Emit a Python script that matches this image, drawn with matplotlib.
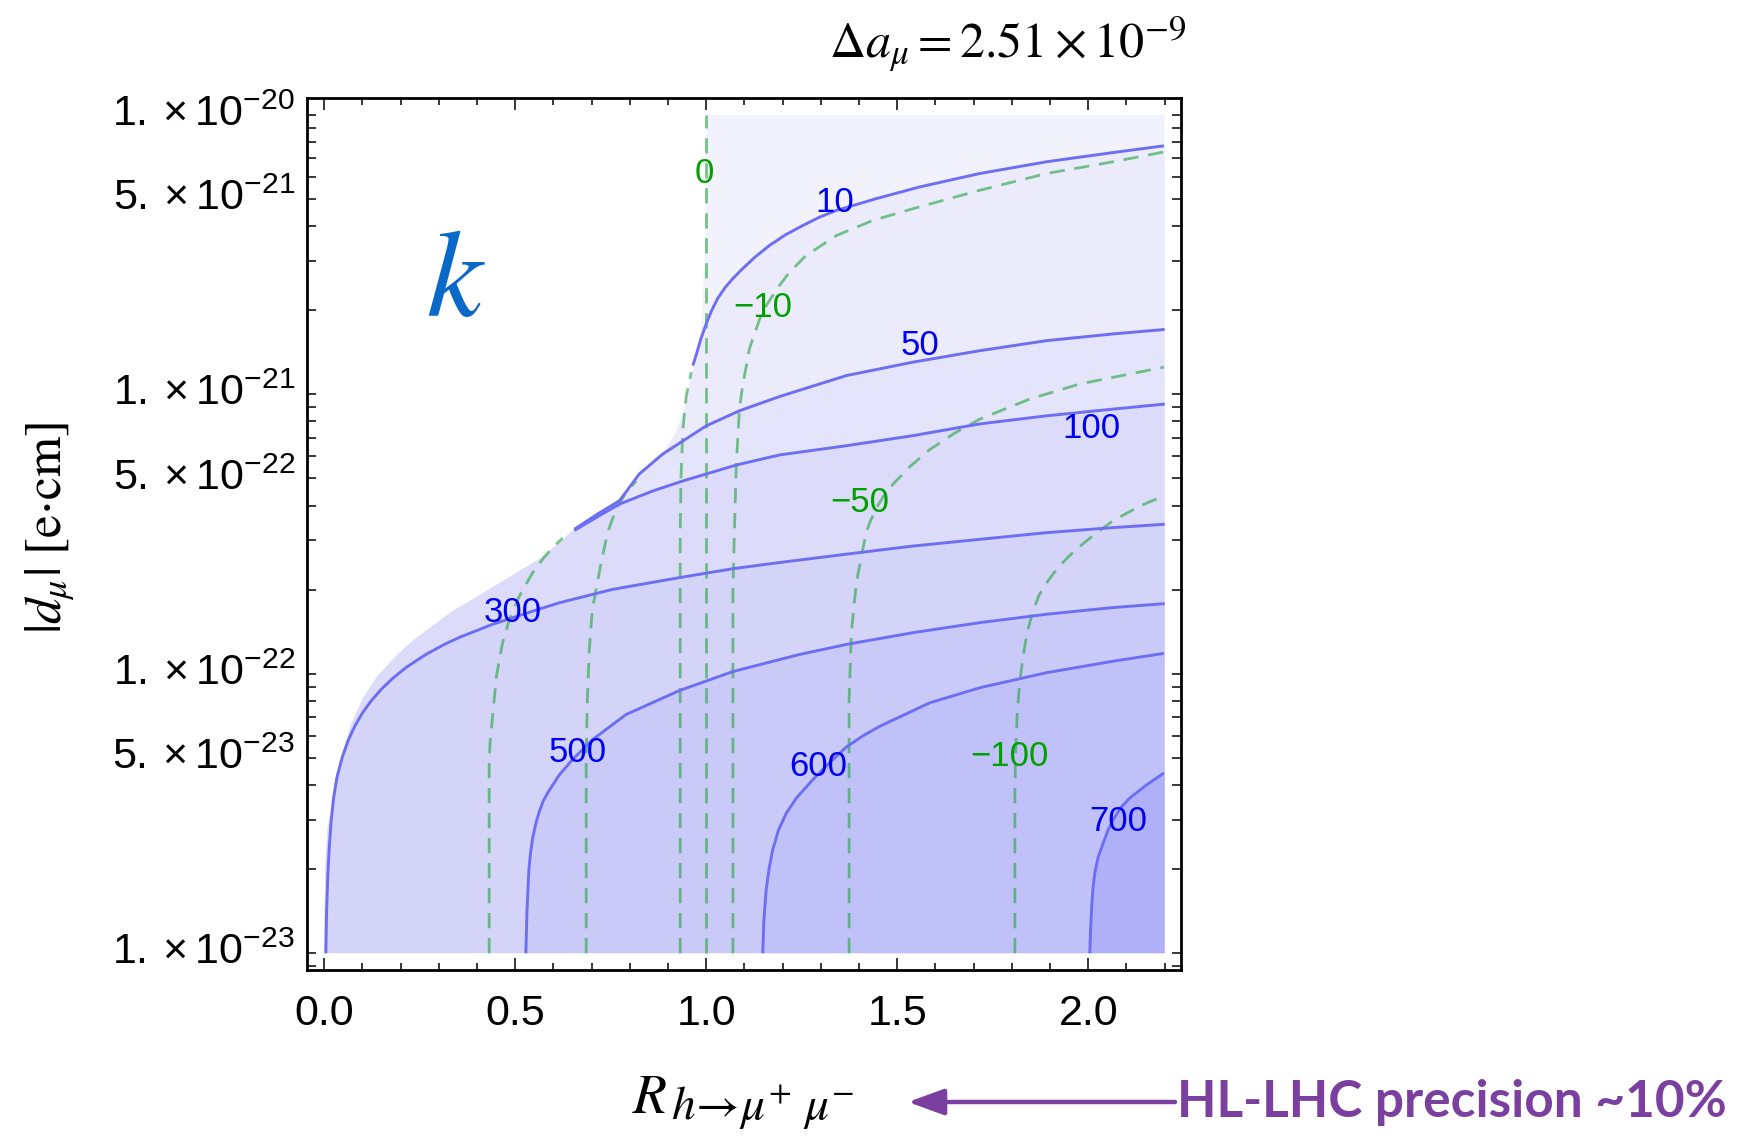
import numpy as np
import matplotlib.pyplot as plt
from matplotlib.patches import Polygon, FancyArrowPatch
from matplotlib.ticker import FixedLocator

plt.rcParams['font.family'] = 'Liberation Sans'
plt.rcParams['mathtext.fontset'] = 'custom'
plt.rcParams['mathtext.rm'] = 'Liberation Sans'
plt.rcParams['mathtext.it'] = 'Liberation Sans:italic'
plt.rcParams['mathtext.bf'] = 'Liberation Sans:bold'

# --- curves: x = R_h->mumu, y = log10|d_mu| ---
# edge of the shaded (allowed) region, bottom-left up to the top
edge_R = [0.0, 0.002, 0.004, 0.009, 0.018, 0.029, 0.048, 0.071, 0.100, 0.139, 0.188, 0.233,
          0.284, 0.335, 0.389, 0.432, 0.476, 0.519, 0.563, 0.608, 0.655, 0.715, 0.773, 0.804,
          0.830, 0.857, 0.886, 0.921, 0.943, 0.956, 0.969, 0.987, 0.996, 1.0, 1.0]
edge_L = [-23.0, -22.809, -22.666, -22.558, -22.486, -22.379, -22.283, -22.182, -22.092, -22.010,
          -21.937, -21.881, -21.829, -21.777, -21.734, -21.698, -21.662, -21.626, -21.590, -21.540,
          -21.483, -21.429, -21.381, -21.339, -21.286, -21.246, -21.214, -21.136, -21.053, -20.969,
          -20.885, -20.766, -20.503, -20.264, -20.0]

# k contours (solid blue)
k10_R = [0.965, 0.975, 0.986, 1.000, 1.014, 1.030, 1.049, 1.069, 1.091, 1.127, 1.166, 1.208,
         1.253, 1.297, 1.341, 1.445, 1.559, 1.716, 1.891, 2.065, 2.198]
k10_L = [-20.897, -20.854, -20.802, -20.748, -20.701, -20.657, -20.619, -20.587, -20.556, -20.510,
         -20.467, -20.429, -20.396, -20.366, -20.342, -20.300, -20.258, -20.210, -20.168, -20.135,
         -20.111]
k50_R = [0.655, 0.715, 0.773, 0.825, 0.886, 1.0, 1.087, 1.192, 1.367, 1.541, 1.716, 1.891, 2.065, 2.2]
k50_L = [-21.483, -21.429, -21.381, -21.285, -21.214, -21.113, -21.059, -21.008, -20.933, -20.885,
         -20.844, -20.808, -20.784, -20.768]
k100_R = [0.655, 0.712, 0.773, 0.860, 0.939, 1.079, 1.192, 1.367, 1.541, 1.716, 1.891, 2.065, 2.2]
k100_L = [-21.487, -21.441, -21.393, -21.346, -21.310, -21.253, -21.217, -21.184, -21.148,
          -21.106, -21.077, -21.053, -21.035]
k300_R = [0.0045, 0.0063, 0.0092, 0.0131, 0.0183, 0.0249, 0.0341, 0.0472, 0.0629, 0.0812, 0.1009,
          0.1231, 0.1493, 0.1789, 0.2148, 0.2664, 0.3144, 0.3537, 0.4409, 0.5457, 0.6157, 0.755,
          0.930, 1.070, 1.192, 1.367, 1.541, 1.716, 1.891, 2.065, 2.2]
k300_L = [-23.0, -22.863, -22.737, -22.630, -22.529, -22.443, -22.368, -22.300, -22.239, -22.185,
          -22.139, -22.097, -22.056, -22.017, -21.977, -21.931, -21.895, -21.870, -21.823, -21.776,
          -21.746, -21.698, -21.656, -21.624, -21.602, -21.572, -21.543, -21.519, -21.495, -21.477,
          -21.465]
k500_R = [0.528, 0.531, 0.536, 0.5402, 0.546, 0.5538, 0.563, 0.5738, 0.587, 0.616, 0.650, 0.703,
          0.790, 0.930, 1.070, 1.244, 1.367, 1.541, 1.716, 1.891, 2.065, 2.2]
k500_L = [-23.0, -22.845, -22.701, -22.641, -22.587, -22.537, -22.494, -22.454, -22.422, -22.361,
          -22.307, -22.235, -22.146, -22.060, -21.992, -21.931, -21.895, -21.853, -21.817, -21.787,
          -21.763, -21.749]
k600_R = [1.148, 1.151, 1.157, 1.165, 1.174, 1.189, 1.210, 1.237, 1.279, 1.323, 1.367, 1.409,
          1.454, 1.585, 1.716, 1.891, 2.065, 2.198]
k600_L = [-23.0, -22.881, -22.773, -22.694, -22.630, -22.560, -22.498, -22.443, -22.379, -22.318,
          -22.262, -22.223, -22.188, -22.104, -22.050, -21.996, -21.955, -21.927]
k700_R = [2.004, 2.006, 2.009, 2.012, 2.017, 2.026, 2.039, 2.051, 2.065, 2.085, 2.109, 2.153, 2.198]
k700_L = [-23.0, -22.916, -22.833, -22.773, -22.713, -22.655, -22.606, -22.562, -22.522, -22.479,
          -22.444, -22.397, -22.355]

# Delta contours (green, dashed)
d0_R = [1.0, 1.0]
d0_L = [-23.0, -20.0]
d0b_R = [0.932, 0.932, 0.934, 0.939, 0.948, 0.961]
d0b_L = [-23.0, -21.5, -21.3, -21.124, -21.005, -20.921]
dm10_R = [1.070, 1.070, 1.074, 1.079, 1.087, 1.096, 1.106, 1.113, 1.127, 1.140, 1.155, 1.174,
          1.195, 1.218, 1.262, 1.341, 1.436, 1.541, 1.716, 1.891, 2.065, 2.198]
dm10_L = [-23.0, -21.698, -21.483, -21.244, -21.053, -20.963, -20.892, -20.838, -20.781, -20.731,
          -20.687, -20.647, -20.605, -20.563, -20.503, -20.432, -20.378, -20.336, -20.270, -20.210,
          -20.168, -20.133]
dm10b_R = [0.686, 0.686, 0.689, 0.694, 0.702, 0.712, 0.725, 0.742, 0.764, 0.790, 0.817]
dm10b_L = [-23.0, -22.307, -22.092, -21.913, -21.770, -21.698, -21.602, -21.495, -21.411, -21.351, -21.310]
dm50_R = [1.374, 1.374, 1.380, 1.393, 1.410, 1.418, 1.428, 1.445, 1.464, 1.488, 1.533, 1.585,
          1.650, 1.716, 1.847, 1.978, 2.198]
dm50_L = [-23.0, -22.092, -21.853, -21.674, -21.554, -21.499, -21.459, -21.407, -21.365, -21.323,
          -21.259, -21.198, -21.139, -21.089, -21.017, -20.963, -20.903]
dm50b_R = [0.432, 0.432, 0.4343, 0.441, 0.451, 0.467, 0.485, 0.511, 0.546, 0.572, 0.598, 0.624]
dm50b_L = [-23.0, -22.331, -22.246, -22.152, -22.009, -21.889, -21.805, -21.722, -21.638, -21.590,
           -21.548, -21.515]
dm100_R = [1.808, 1.808, 1.810, 1.814, 1.820, 1.829, 1.840, 1.855, 1.871, 1.891, 1.910, 1.934,
           1.967, 2.004, 2.065, 2.135, 2.198]
dm100_L = [-23.0, -22.415, -22.271, -22.146, -22.038, -21.942, -21.852, -21.777, -21.719, -21.675,
           -21.639, -21.601, -21.556, -21.515, -21.452, -21.400, -21.363]

# contour labels
lab_text = ['0', '10', '\u221210', '50', '100', '\u221250', '300', '500', '600', '\u2212100', '700']
lab_R = [0.995, 1.336, 1.148, 1.559, 2.009, 1.402, 0.493, 0.663, 1.292, 1.795, 2.078]
lab_L = [-20.210, -20.312, -20.688, -20.826, -21.124, -21.387, -21.781, -22.282, -22.331, -22.295, -22.528]

x_ticks = [0.0, 0.5, 1.0, 1.5, 2.0]
x_ticklabels = ['0.0', '0.5', '1.0', '1.5', '2.0']
y_ticks = [1e-23, 5e-23, 1e-22, 5e-22, 1e-21, 5e-21, 1e-20]
y_ticklabels = [r'$1.\times10^{-23}$', r'$5.\times10^{-23}$', r'$1.\times10^{-22}$',
                r'$5.\times10^{-22}$', r'$1.\times10^{-21}$', r'$5.\times10^{-21}$',
                r'$1.\times10^{-20}$']

# --- styles ---
shades = ['#f2f2fd', '#ebebfc', '#e4e4fb', '#dcdcfa', '#d4d4f9', '#cacaf9', '#c1c1f9', '#b0b0f8']
blue_line = '#6e6ef2'
green_line = '#2fa84a'
purple = '#7b3fa0'


def pts(R, L):
    return np.column_stack([R, 10.0 ** np.asarray(L)])


fig = plt.figure(figsize=(17.54, 11.36), dpi=100)
ax = fig.add_axes([0.1752, 0.1461, 0.4984, 0.7676])
ax.set_yscale('log')
ax.set_xlim(-0.044, 2.244)
ax.set_ylim(10 ** -23.06, 10 ** -19.94)

# --- shading ---
domain = Polygon(np.vstack([pts(edge_R, edge_L), pts([2.2, 2.2], [-20.0, -23.0])]),
                 closed=True, fc=shades[0], ec='none', zorder=1)
ax.add_patch(domain)

k_lines = [(k10_R, k10_L), (k50_R, k50_L), (k100_R, k100_L), (k300_R, k300_L),
           (k500_R, k500_L), (k600_R, k600_L), (k700_R, k700_L)]
for (R, L), c in zip(k_lines, shades[1:]):
    if L[0] <= -23.0:
        extra = pts([2.2, 2.2], [L[-1], -23.0])
    else:
        extra = pts([2.2, 2.2, -0.3, -0.3], [L[-1], -23.0, -23.0, L[0]])
    p = Polygon(np.vstack([pts(R, L), extra]), closed=True, fc=c, ec='none', zorder=1)
    ax.add_patch(p)
    p.set_clip_path(domain)

# --- contour lines ---
for R, L in k_lines:
    ax.plot(R, 10.0 ** np.asarray(L), color=blue_line, lw=2.1, zorder=3,
            solid_joinstyle='round', solid_capstyle='butt')

d_lines = [(d0_R, d0_L), (d0b_R, d0b_L), (dm10_R, dm10_L), (dm10b_R, dm10b_L),
           (dm50_R, dm50_L), (dm50b_R, dm50b_L), (dm100_R, dm100_L)]
for R, L in d_lines:
    ax.plot(R, 10.0 ** np.asarray(L), color=green_line, lw=2.0, alpha=0.65,
            ls=(0, (5.5, 3.5)), zorder=2, dash_joinstyle='round')

for t, R, L in zip(lab_text, lab_R, lab_L):
    col = '#00a000' if (t == '0' or t.startswith('\u2212')) else '#0000f0'
    ax.text(R, 10.0 ** L, t, color=col, fontsize=25, ha='center', va='center', zorder=4)

ax.text(0.346, 10 ** -20.607, r'$k$', color='#0a68c8', fontsize=90, ha='center', va='center',
        math_fontfamily='stix', zorder=4)

# --- axes, ticks ---
ax.xaxis.set_major_locator(FixedLocator(x_ticks))
ax.set_xticklabels(x_ticklabels)
ax.xaxis.set_minor_locator(FixedLocator(np.arange(0.0, 2.25, 0.1)))
ax.yaxis.set_major_locator(FixedLocator(y_ticks))
ax.set_yticklabels(y_ticklabels)
ax.yaxis.set_minor_locator(FixedLocator([m * 10.0 ** e for e in range(-24, -20) for m in range(1, 10)]))
ax.yaxis.set_minor_formatter(plt.NullFormatter())
for lbl in ax.get_yticklabels():
    lbl.set_va('center')

ax.tick_params(which='both', direction='in', top=True, right=True, width=1.1, color='black')
ax.tick_params(axis='x', which='major', length=8.6, labelsize=31, pad=17)
ax.tick_params(axis='x', which='minor', length=5)
ax.tick_params(axis='y', which='both', length=6.5)
ax.tick_params(axis='y', which='major', labelsize=31, pad=9)
for s in ax.spines.values():
    s.set_linewidth(2.0)

# --- titles and labels ---
fig.text(1186 / 1754, 1 - 57 / 1136, r'$\Delta a_{\mu} = 2.51\times10^{-9}$', fontsize=36,
         ha='right', va='baseline', math_fontfamily='stix')
fig.text(50 / 1754, 1 - 528 / 1136, r'$|d_{\mu}|\ [\mathrm{e{\cdot}cm}]$', fontsize=37,
         rotation=90, ha='center', va='center', math_fontfamily='stix')
fig.text(632 / 1754, 1 - 1113 / 1136, r'$R$', fontsize=40, ha='left', va='baseline',
         math_fontfamily='stix')
fig.text(671 / 1754, 1 - 1120 / 1136, r'$h\!\rightarrow\!\mu^{+}\ \mu^{-}$', fontsize=34,
         ha='left', va='baseline', math_fontfamily='stix')

arrow = FancyArrowPatch((1175 / 1754, 1 - 1102 / 1136), (908 / 1754, 1 - 1102 / 1136),
                        transform=fig.transFigure, arrowstyle='-|>,head_length=22,head_width=8',
                        mutation_scale=1, lw=3.2, color=purple, shrinkA=0, shrinkB=0)
fig.patches.append(arrow)
fig.text(1177 / 1754, 1 - 1117 / 1136, 'HL-LHC precision ~10%', fontsize=37, fontweight='bold',
         family='Lato', color=purple, ha='left', va='baseline')

fig.savefig('out.png', dpi=100, facecolor='white')
